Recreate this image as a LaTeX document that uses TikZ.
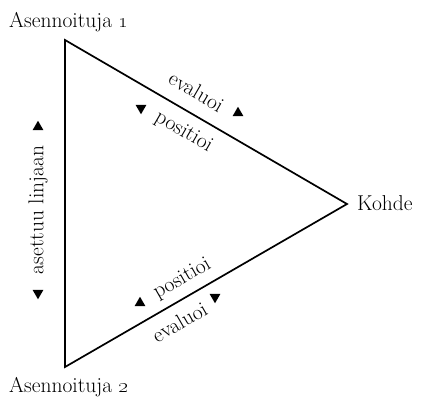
\documentclass[tikz,border=0pt]{standalone}
\usetikzlibrary{shapes.geometric}
\begin{document}
\begin{tikzpicture}[x=1pt,y=-1pt,
  lbl/.style={inner sep=0pt,font=\fontsize{21.5}{25}\selectfont},
  edge/.style={line width=1.7pt,line join=miter},
  tup/.style={regular polygon,regular polygon sides=3,fill=black,draw=none,minimum size=12.5pt,inner sep=0pt},
  tdown/.style={tup,shape border rotate=180}]
\useasboundingbox (0,0) rectangle (422,399);
\coordinate (A) at (65,40);
\coordinate (K) at (347,204);
\coordinate (B) at (65,367);
\draw[edge] (A) -- (K) -- (B) -- cycle;
\node[lbl,anchor=base west] (a1) at (9,27) {Asennoituja \oldstylenums{1}};
\node[lbl,anchor=base west] (k) at (357,210) {Kohde};
\node[lbl,anchor=base west] (a2) at (9,392) {Asennoituja \oldstylenums{2}};
% top edge
\node[lbl,rotate=-30.2] (ev1) at (196.5,91.5) {evaluoi};
\node[tup] (t1) at (238,113) {};
\node[lbl,rotate=-30.2] (po1) at (183.5,132) {positioi};
\node[tdown] (t2) at (141,108) {};
% bottom edge
\node[lbl,rotate=29.8] (po2) at (182.5,279) {positioi};
\node[tup] (t3) at (140,303) {};
\node[lbl,rotate=29.8] (ev2) at (179.5,322) {evaluoi};
\node[tdown] (t4) at (215,297) {};
% left edge
\node[lbl,rotate=90] (as) at (38,210) {asettuu linjaan};
\node[tup] (t5) at (38,127) {};
\node[tdown] (t6) at (38,293) {};
\end{tikzpicture}
\end{document}
